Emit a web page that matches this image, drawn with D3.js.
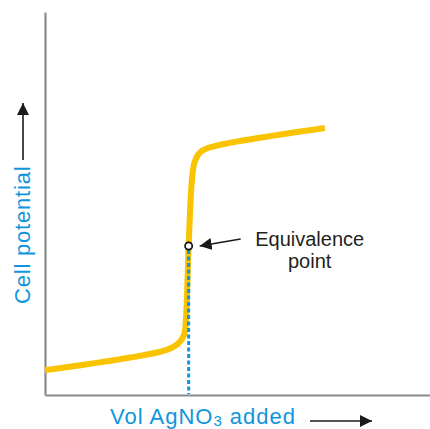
<!DOCTYPE html>
<html>
<head>
<meta charset="utf-8">
<script src="https://cdn.jsdelivr.net/npm/d3@7"></script>
<style>
  body { margin: 0; background: #fff; }
  svg { display: block; font-family: "Liberation Sans", Arial, sans-serif; }
</style>
</head>
<body>
<div id="container"></div>
<script>
// titration curve (mL, arbitrary potential units)
const volume    = [0, 21.2, 23.1, 24.2, 24.5, 25.0, 25.6, 26.1, 27.1, 29.1, 48.7];
const potential = [6.5, 11.8, 13.3, 15.7, 19.1, 38.9, 56.7, 61.1, 63.5, 64.8, 69.7];
const equivalence = {v: 25.0, e: 38.9};

const width = 430, height = 429;
const margin = {top: 12, right: 0, bottom: 34, left: 45};

const yellow = "#f9c300", blue = "#1195dc", axisGray = "#8a8a8a";

const data = volume.map((v, i) => ({v: v, e: potential[i]}));

const xScale = d3.scaleLinear()
  .domain([0, 67])
  .range([margin.left, width - margin.right]);

const yScale = d3.scaleLinear()
  .domain([0, 100])
  .range([height - margin.bottom, margin.top]);

const svg = d3.select("#container").append("svg")
  .attr("width", width)
  .attr("height", height);

const defs = svg.append("defs");
defs.append("marker")
  .attr("id", "head")
  .attr("viewBox", "0 0 12 12")
  .attr("refX", 12).attr("refY", 6)
  .attr("markerWidth", 12).attr("markerHeight", 12)
  .attr("markerUnits", "userSpaceOnUse")
  .attr("orient", "auto")
  .append("path")
    .attr("d", "M0,0 L12,6 L0,12 Z")
    .attr("fill", "#1a1a1a");

// AXES (no ticks, just the lines)
const xAxis = d3.axisBottom(xScale).tickValues([]).tickSizeOuter(0);
const yAxis = d3.axisLeft(yScale).tickValues([]).tickSizeOuter(0);

svg.append("g")
  .attr("transform", `translate(0,${yScale(0)})`)
  .call(xAxis)
  .call(g => g.select(".domain").attr("stroke", axisGray).attr("stroke-width", 2.2));

svg.append("g")
  .attr("transform", `translate(${xScale(0)},0)`)
  .call(yAxis)
  .call(g => g.select(".domain").attr("stroke", axisGray).attr("stroke-width", 2.2));

// CURVE
const lineGen = d3.line()
  .curve(d3.curveCatmullRom.alpha(0.5))
  .x(d => xScale(d.v))
  .y(d => yScale(d.e));

svg.append("path")
  .datum(data)
  .attr("d", lineGen)
  .attr("fill", "none")
  .attr("stroke", yellow)
  .attr("stroke-width", 6);

// dotted drop line at equivalence (sits on top of the curve)
const ex = xScale(equivalence.v), ey = yScale(equivalence.e);
svg.append("line")
  .attr("x1", ex).attr("x2", ex)
  .attr("y1", ey + 4).attr("y2", yScale(0) - 1)
  .attr("stroke", blue)
  .attr("stroke-width", 3)
  .attr("stroke-dasharray", "4,2.5");

// equivalence point marker
svg.append("circle")
  .attr("cx", ex).attr("cy", ey)
  .attr("r", 3.6)
  .attr("fill", "#fff")
  .attr("stroke", "#111")
  .attr("stroke-width", 1.7);

// annotation
svg.append("line")
  .attr("x1", ex + 52).attr("y1", ey - 7)
  .attr("x2", ex + 11).attr("y2", ey)
  .attr("stroke", "#1a1a1a")
  .attr("stroke-width", 1.6)
  .attr("marker-end", "url(#head)");

const note = svg.append("text")
  .attr("x", ex + 121).attr("y", ey)
  .attr("text-anchor", "middle")
  .attr("fill", "#231f20")
  .style("font-size", "20px");
note.append("tspan").attr("x", ex + 121).attr("dy", 0).text("Equivalence");
note.append("tspan").attr("x", ex + 121).attr("dy", 22).text("point");

// AXIS LABELS
svg.append("text")
  .attr("x", 110).attr("y", 424)
  .attr("fill", blue)
  .style("font-size", "22px")
  .style("letter-spacing", "1px")
  .html('Vol AgNO<tspan font-size="15px" dy="2">3</tspan><tspan dy="-2"> added</tspan>');

svg.append("line")
  .attr("x1", 310).attr("y1", 421)
  .attr("x2", 372).attr("y2", 421)
  .attr("stroke", "#1a1a1a")
  .attr("stroke-width", 1.6)
  .attr("marker-end", "url(#head)");

svg.append("text")
  .attr("transform", "translate(30,304) rotate(-90)")
  .attr("fill", blue)
  .style("font-size", "22px")
  .style("letter-spacing", "0.8px")
  .text("Cell potential");

svg.append("line")
  .attr("x1", 23).attr("y1", 160)
  .attr("x2", 23).attr("y2", 103)
  .attr("stroke", "#1a1a1a")
  .attr("stroke-width", 1.6)
  .attr("marker-end", "url(#head)");
</script>
</body>
</html>
